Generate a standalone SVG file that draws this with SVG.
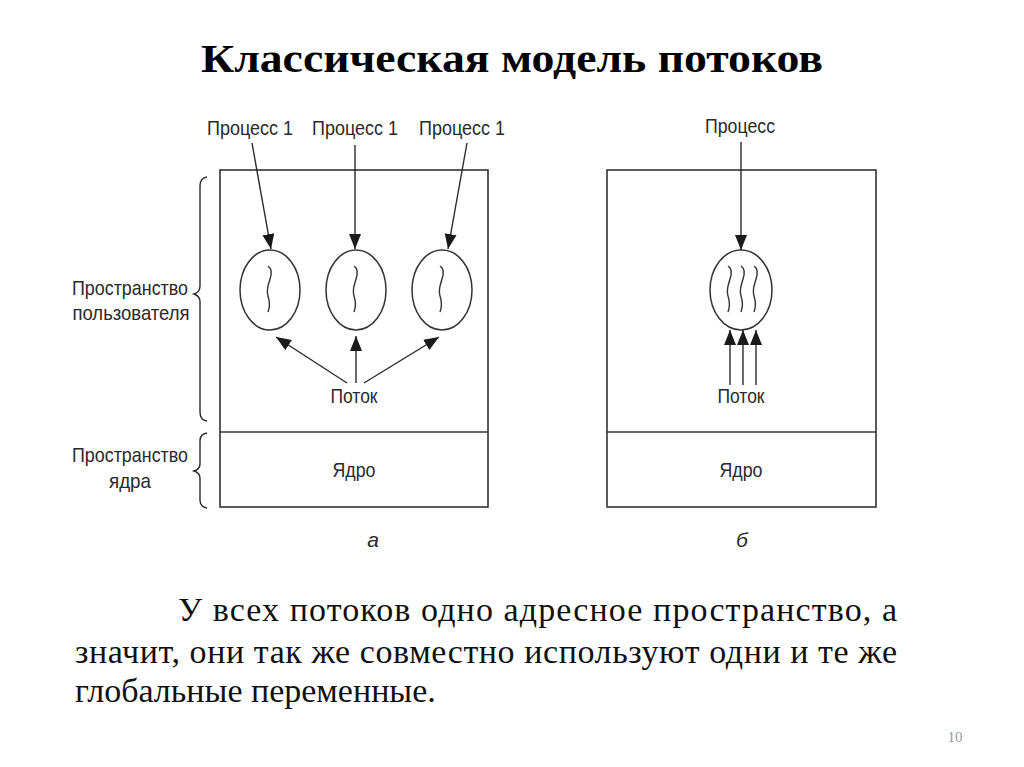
<svg xmlns="http://www.w3.org/2000/svg" width="1024" height="767" viewBox="0 0 1024 767">
<defs>
<style>
.lbl{font-family:"Liberation Sans",Arial,sans-serif;font-size:21px;fill:#2a2a2a}
.it{font-family:"Liberation Sans",Arial,sans-serif;font-size:21px;font-style:italic;fill:#2a2a2a}
.box{fill:none;stroke:#333;stroke-width:1.6}
.ln{fill:none;stroke:#2a2a2a;stroke-width:1.4}
.circ{fill:none;stroke:#333;stroke-width:1.5}
.sq{fill:none;stroke:#333;stroke-width:1.4}
.body{font-family:"Liberation Serif","Times New Roman",serif;font-size:34px;fill:#111}
</style>
<marker id="ah" markerWidth="15" markerHeight="12" refX="15" refY="6" orient="auto" markerUnits="userSpaceOnUse"><path d="M0,0 L15,6 L0,12 z" fill="#1a1a1a"/></marker>
</defs>
<rect width="1024" height="767" fill="#fff"/>
<text x="512" y="72" text-anchor="middle" font-family="Liberation Serif,'Times New Roman',serif" font-weight="bold" font-size="40" fill="#000" textLength="622" lengthAdjust="spacingAndGlyphs">Классическая модель потоков</text>

<g id="panel-a">
<rect class="box" x="220" y="170" width="268" height="337"/>
<line class="box" x1="220" y1="432" x2="488" y2="432"/>
<text class="lbl" x="354" y="477" text-anchor="middle" textLength="43" lengthAdjust="spacingAndGlyphs">Ядро</text>
<text class="it" x="373" y="547" text-anchor="middle">а</text>
</g>
<g id="panel-b">
<rect class="box" x="607" y="170" width="269" height="337"/>
<line class="box" x1="607" y1="432" x2="876" y2="432"/>
<text class="lbl" x="741" y="477" text-anchor="middle" textLength="43" lengthAdjust="spacingAndGlyphs">Ядро</text>
<text class="it" x="742" y="547" text-anchor="middle">б</text>
</g>

<g id="user-space-label">
<path class="ln" d="M207,177 Q200,178 200,186 L200,286 Q200,292 194,294 Q200,296 200,302 L200,412 Q200,420 207,421"/>
<text class="lbl" x="130" y="295" text-anchor="middle" textLength="116" lengthAdjust="spacingAndGlyphs">Пространство</text>
<text class="lbl" x="131" y="320" text-anchor="middle" textLength="117" lengthAdjust="spacingAndGlyphs">пользователя</text>
</g>
<g id="kernel-space-label">
<path class="ln" d="M207,433 Q200,434 200,441 L200,464 Q200,469 194,471 Q200,473 200,478 L200,500 Q200,507 207,508"/>
<text class="lbl" x="130" y="462" text-anchor="middle" textLength="116" lengthAdjust="spacingAndGlyphs">Пространство</text>
<text class="lbl" x="130" y="488" text-anchor="middle" textLength="42" lengthAdjust="spacingAndGlyphs">ядра</text>
</g>

<g id="proc-a1">
<text class="lbl" x="250" y="135" text-anchor="middle" textLength="86" lengthAdjust="spacingAndGlyphs">Процесс 1</text>
<ellipse class="circ" cx="270" cy="290" rx="30" ry="40"/>
<path class="sq" d="M268,266 c3,2 4,7 2,13 c-2,7 -4,11 -2,17 c2,6 2,11 0,16"/>
</g>
<g id="proc-a2">
<text class="lbl" x="355" y="135" text-anchor="middle" textLength="86" lengthAdjust="spacingAndGlyphs">Процесс 1</text>
<ellipse class="circ" cx="356" cy="290" rx="30" ry="40"/>
<path class="sq" d="M354,266 c3,2 4,7 2,13 c-2,7 -4,11 -2,17 c2,6 2,11 0,16"/>
</g>
<g id="proc-a3">
<text class="lbl" x="462" y="135" text-anchor="middle" textLength="86" lengthAdjust="spacingAndGlyphs">Процесс 1</text>
<ellipse class="circ" cx="442" cy="290" rx="30" ry="40"/>
<path class="sq" d="M440,266 c3,2 4,7 2,13 c-2,7 -4,11 -2,17 c2,6 2,11 0,16"/>
</g>
<g id="thread-a">
<text class="lbl" x="354" y="403" text-anchor="middle" textLength="47" lengthAdjust="spacingAndGlyphs">Поток</text>
</g>

<g id="proc-b">
<text class="lbl" x="740" y="133" text-anchor="middle" textLength="70" lengthAdjust="spacingAndGlyphs">Процесс</text>
<ellipse class="circ" cx="741" cy="290" rx="31" ry="40"/>
<path class="sq" d="M728,266 c3,2 4,7 2,13 c-2,7 -4,11 -2,17 c2,6 2,11 0,16"/>
<path class="sq" d="M741,266 c3,2 4,7 2,13 c-2,7 -4,11 -2,17 c2,6 2,11 0,16"/>
<path class="sq" d="M754,266 c3,2 4,7 2,13 c-2,7 -4,11 -2,17 c2,6 2,11 0,16"/>
</g>
<g id="thread-b">
<text class="lbl" x="741" y="403" text-anchor="middle" textLength="47" lengthAdjust="spacingAndGlyphs">Поток</text>
</g>

<g id="connectors">
<line class="ln" x1="252" y1="143" x2="271" y2="249" marker-end="url(#ah)"/>
<line class="ln" x1="355" y1="145" x2="355" y2="249" marker-end="url(#ah)"/>
<line class="ln" x1="467" y1="143" x2="448" y2="249" marker-end="url(#ah)"/>
<line class="ln" x1="347" y1="383" x2="276" y2="337" marker-end="url(#ah)"/>
<line class="ln" x1="356" y1="383" x2="356" y2="336" marker-end="url(#ah)"/>
<line class="ln" x1="364" y1="383" x2="439" y2="337" marker-end="url(#ah)"/>
<line class="ln" x1="741" y1="142" x2="741" y2="250" marker-end="url(#ah)"/>
<line class="ln" x1="730" y1="385" x2="730" y2="330" marker-end="url(#ah)"/>
<line class="ln" x1="743" y1="385" x2="743" y2="330" marker-end="url(#ah)"/>
<line class="ln" x1="756" y1="385" x2="756" y2="330" marker-end="url(#ah)"/>
</g>

<text class="body" x="178" y="621" textLength="719" lengthAdjust="spacing">У всех потоков одно адресное пространство, а</text>
<text class="body" x="75" y="663" textLength="822" lengthAdjust="spacing">значит, они так же совместно используют одни и те же</text>
<text class="body" x="75" y="702">глобальные переменные.</text>
<text x="955" y="742" text-anchor="middle" font-family="Liberation Serif,serif" font-size="15" fill="#999">10</text>
</svg>
